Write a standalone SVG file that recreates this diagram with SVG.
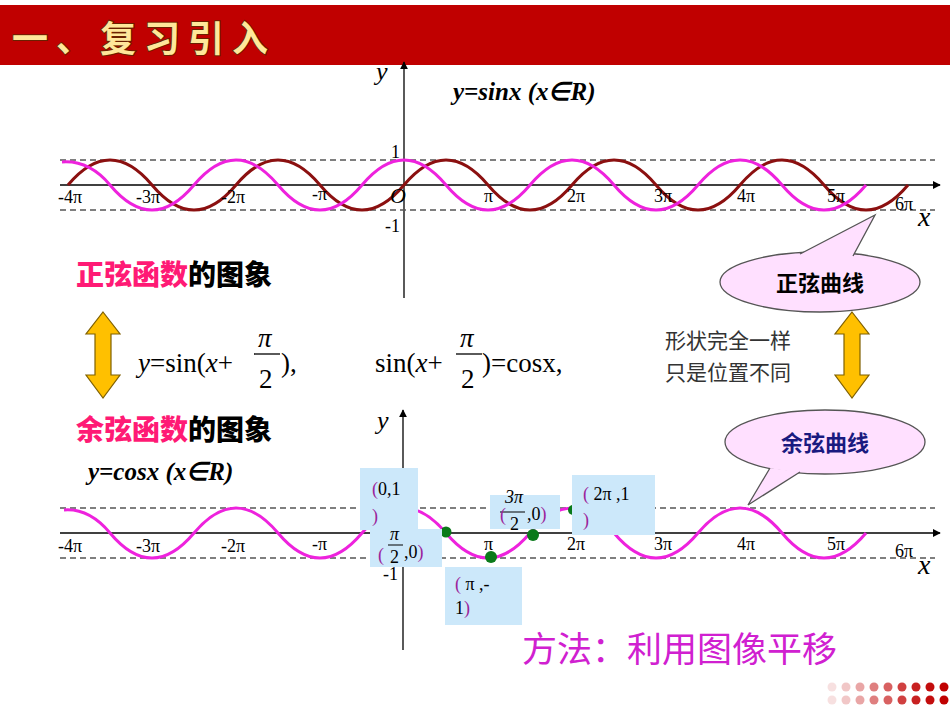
<svg xmlns="http://www.w3.org/2000/svg" width="950" height="713" viewBox="0 0 950 713">
<defs>
<marker id="ah" viewBox="0 0 10 10" refX="9" refY="5" markerWidth="8" markerHeight="8" orient="auto" markerUnits="userSpaceOnUse"><path d="M0,0L10,5L0,10z" fill="#000"/></marker>
<style>
.ax{stroke:#000;stroke-width:1.3;fill:none}
.ds{stroke:#555;stroke-width:1.3;stroke-dasharray:6,4;fill:none}
.pk{stroke:#ee22dd;stroke-width:3;fill:none}
.dr{stroke:#8b1010;stroke-width:3;fill:none}
.tk{font-family:"Liberation Serif",serif;font-size:18px;fill:#000}
.it{font-family:"Liberation Serif",serif;font-style:italic}
.bx{fill:#cce8fa}
.lb{font-family:"Liberation Serif",serif;font-size:18px;fill:#000}
.pu{fill:#9b1f9b}
.cj{font-family:"Noto Sans CJK SC",sans-serif;font-weight:900;font-size:28px}
.fm{font-family:"Liberation Serif",serif;font-size:27px;fill:#000}
.ga{fill:#ffc000;stroke:#7f6000;stroke-width:1.2}
.el{fill:#ffe0ff;stroke:#555;stroke-width:1.3}
.gd{fill:#0a7a1a}
</style>
</defs>
<rect width="950" height="713" fill="#fff"/>
<g id="header">
<rect x="0" y="5" width="950" height="60" fill="#c00000"/>
<text x="12" y="52" font-family="Noto Sans CJK SC,sans-serif" font-weight="bold" font-size="36" fill="#ffe79a" stroke="#6a2000" stroke-width="2" paint-order="stroke" letter-spacing="8">一、复习引入</text>
</g>
<g id="connectors">
<line class="ax" x1="60" y1="185" x2="940" y2="185" marker-end="url(#ah)"/>
<line class="ax" x1="404" y1="298" x2="404" y2="62" marker-end="url(#ah)"/>
<line class="ds" x1="60" y1="160" x2="935" y2="160"/>
<line class="ds" x1="60" y1="210" x2="935" y2="210"/>
<line class="ax" x1="60" y1="533" x2="940" y2="533" marker-end="url(#ah)"/>
<line class="ax" x1="403" y1="650" x2="403" y2="410" marker-end="url(#ah)"/>
<line class="ds" x1="60" y1="508" x2="935" y2="508"/>
<line class="ds" x1="60" y1="558" x2="935" y2="558"/>
<path class="dr" d="M68,185 Q110,135 152,185 T236,185 T320,185 T404,185 T488,185 T572,185 T656,185 T740,185 T824,185 T908,185"/>
<path class="pk" d="M62,162 Q89,160 110,185 Q152,235 194,185 T278,185 T362,185 T446,185 T530,185 T614,185 T698,185 T782,185 T866,185"/>
<path class="pk" d="M64,510 Q89,508 110,533 Q152,583 194,533 T278,533 T362,533 T446,533 T530,533 T614,533 T698,533 T782,533 T866,533"/>
</g>
<g id="ticks-top" class="tk">
<text x="58" y="203">-4π</text><text x="136" y="203">-3π</text><text x="221" y="203">-2π</text><text x="312" y="200">-π</text>
<text x="484" y="202">π</text><text x="567" y="202">2π</text><text x="654" y="202">3π</text><text x="737" y="202">4π</text><text x="827" y="202">5π</text><text x="895" y="210">6π</text>
<text x="391" y="158">1</text><text x="385" y="232">-1</text>
<text x="390" y="203" class="it" font-size="22">O</text>
<text x="918" y="226" class="it" font-size="28">x</text>
<text x="376" y="80" class="it" font-size="26">y</text>
</g>
<g id="ticks-bottom" class="tk">
<text x="58" y="552">-4π</text><text x="136" y="552">-3π</text><text x="221" y="552">-2π</text><text x="312" y="550">-π</text>
<text x="484" y="550">π</text><text x="567" y="550">2π</text><text x="654" y="550">3π</text><text x="737" y="550">4π</text><text x="827" y="550">5π</text><text x="895" y="557">6π</text>
<text x="383" y="580">-1</text>
<text x="918" y="574" class="it" font-size="28">x</text>
<text x="377" y="429" class="it" font-size="26">y</text>
</g>
<g id="title-sin"><text x="453" y="100" class="it" font-weight="bold" font-size="25">y=sinx  (x∈R)</text></g>
<g id="title-cos"><text x="88" y="480" class="it" font-weight="bold" font-size="25">y=cosx  (x∈R)</text></g>
<g id="label-sin" class="cj"><text x="76" y="285"><tspan fill="#ff1a75">正弦函数</tspan><tspan fill="#000">的图象</tspan></text></g>
<g id="label-cos" class="cj"><text x="76" y="440"><tspan fill="#ff1a75">余弦函数</tspan><tspan fill="#000">的图象</tspan></text></g>
<g id="arrow-left"><path class="ga" d="M103,312 L120,334 L111,334 L111,375 L120,375 L103,398 L86,375 L95,375 L95,334 L86,334 Z"/></g>
<g id="arrow-right"><path class="ga" d="M852,312 L869,334 L860,334 L860,375 L869,375 L852,398 L835,375 L844,375 L844,334 L835,334 Z"/></g>
<g id="formula1" class="fm">
<text x="138" y="372"><tspan font-style="italic">y</tspan>=sin(<tspan font-style="italic">x</tspan>+</text>
<text x="258" y="347" font-style="italic">π</text>
<line x1="254" y1="354" x2="280" y2="354" stroke="#000" stroke-width="1.3"/>
<text x="259" y="388">2</text>
<text x="281" y="372">),</text>
</g>
<g id="formula2" class="fm">
<text x="375" y="372">sin(<tspan font-style="italic">x</tspan>+</text>
<text x="460" y="347" font-style="italic">π</text>
<line x1="456" y1="354" x2="482" y2="354" stroke="#000" stroke-width="1.3"/>
<text x="461" y="388">2</text>
<text x="482" y="372">)=cosx,</text>
</g>
<g id="note"><text x="665" y="348" font-family="Noto Sans CJK SC,sans-serif" font-size="21" fill="#333">形状完全一样</text><text x="665" y="380" font-family="Noto Sans CJK SC,sans-serif" font-size="21" fill="#333">只是位置不同</text></g>
<g id="callout-sin">
<ellipse cx="820" cy="282" rx="100" ry="30" class="el"/>
<path d="M800,254 L875,215 L853,256" fill="#ffe0ff" stroke="#555" stroke-width="1.3"/>
<path d="M801,256 L853,258 L840,245z" fill="#ffe0ff"/>
<text x="820" y="291" text-anchor="middle" font-family="Noto Sans CJK SC,sans-serif" font-weight="bold" font-size="22" fill="#000">正弦曲线</text>
</g>
<g id="callout-cos">
<ellipse cx="825" cy="442" rx="100" ry="32" class="el"/>
<path d="M770,468 L748,505 L800,472" fill="#ffe0ff" stroke="#555" stroke-width="1.3"/>
<path d="M772,466 L800,470 L785,462z" fill="#ffe0ff"/>
<text x="825" y="451" text-anchor="middle" font-family="Noto Sans CJK SC,sans-serif" font-weight="bold" font-size="22" fill="#1a1a80">余弦曲线</text>
</g>
<g id="points">
<circle class="gd" cx="446" cy="532" r="5.5"/>
<circle class="gd" cx="491" cy="557" r="6"/>
<circle class="gd" cx="533" cy="535" r="6"/>
<circle class="gd" cx="573" cy="510" r="5"/>
</g>
<g id="box-01"><rect class="bx" x="360" y="468" width="58" height="62"/><text class="lb" x="372" y="495"><tspan class="pu">(</tspan>0,1</text><text class="lb pu" x="372" y="522">)</text></g>
<g id="box-pi2"><rect class="bx" x="370" y="529" width="72" height="38"/><text class="lb it" x="390" y="540" font-size="17">π</text><line x1="388" y1="545" x2="403" y2="545" stroke="#000"/><text class="lb" x="378" y="561"><tspan class="pu">(</tspan></text><text class="lb" x="390" y="563">2</text><text class="lb" x="404" y="558">,0<tspan class="pu">)</tspan></text></g>
<g id="box-3pi2"><rect class="bx" x="490" y="495" width="70" height="34"/><text class="lb it" x="505" y="503" font-size="16">3π</text><line x1="500" y1="512" x2="525" y2="512" stroke="#000"/><text class="lb" x="500" y="521"><tspan class="pu">(</tspan></text><text class="lb" x="510" y="530">2</text><text class="lb" x="527" y="520">,0<tspan class="pu">)</tspan></text></g>
<g id="box-2pi"><rect class="bx" x="572" y="475" width="83" height="60"/><text class="lb" x="583" y="500"><tspan class="pu">(</tspan> 2π ,1</text><text class="lb pu" x="583" y="526">)</text></g>
<g id="box-pim1"><rect class="bx" x="445" y="567" width="77" height="58"/><text class="lb" x="455" y="590"><tspan class="pu">(</tspan> π ,-</text><text class="lb" x="455" y="614">1<tspan class="pu">)</tspan></text></g>
<g id="method"><text x="522" y="662" font-family="Noto Sans CJK SC,sans-serif" font-size="35" fill="#d020d0">方法：利用图像平移</text></g>
<g id="dots">
<g fill="#c00000">
<circle cx="832" cy="687" r="4.5" opacity="0.12"/><circle cx="846" cy="687" r="4.5" opacity="0.22"/><circle cx="860" cy="687" r="4.5" opacity="0.35"/><circle cx="874" cy="687" r="4.5" opacity="0.5"/><circle cx="888" cy="687" r="4.5" opacity="0.62"/><circle cx="902" cy="687" r="4.5" opacity="0.75"/><circle cx="916" cy="687" r="4.5" opacity="0.87"/><circle cx="930" cy="687" r="4.5" opacity="0.95"/><circle cx="944" cy="687" r="4.5"/>
<circle cx="832" cy="700" r="4.5" opacity="0.12"/><circle cx="846" cy="700" r="4.5" opacity="0.22"/><circle cx="860" cy="700" r="4.5" opacity="0.35"/><circle cx="874" cy="700" r="4.5" opacity="0.5"/><circle cx="888" cy="700" r="4.5" opacity="0.62"/><circle cx="902" cy="700" r="4.5" opacity="0.75"/><circle cx="916" cy="700" r="4.5" opacity="0.87"/><circle cx="930" cy="700" r="4.5" opacity="0.95"/><circle cx="944" cy="700" r="4.5"/>
</g>
</g>
</svg>
